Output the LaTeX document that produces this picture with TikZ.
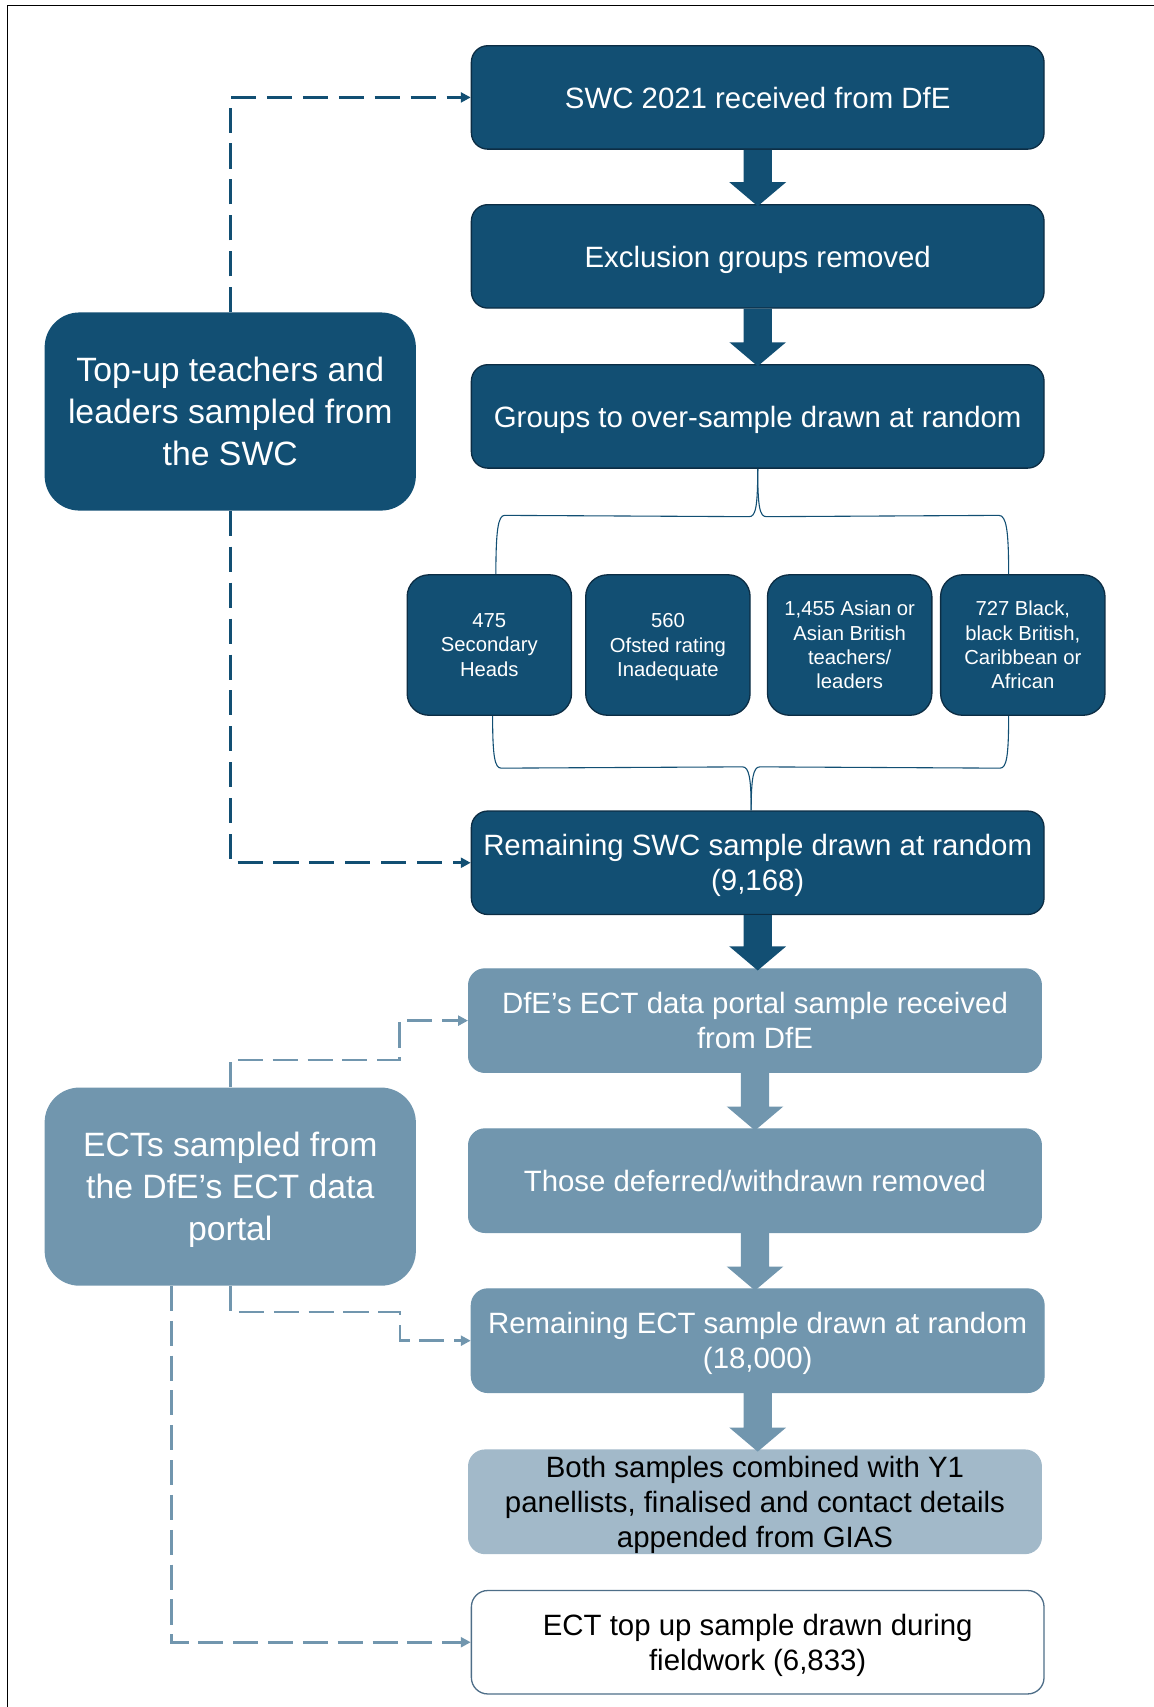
\documentclass[tikz,border=0pt]{standalone}
\usepackage{fontspec}
\setmainfont{Liberation Sans}
\usetikzlibrary{calc,arrows.meta}
\definecolor{swcblue}{RGB}{18,79,115}
\definecolor{swcline}{RGB}{12,45,68}
\definecolor{ectblue}{RGB}{113,150,174}
\definecolor{ectpale}{RGB}{162,185,201}
\definecolor{ectline}{RGB}{78,110,136}
\def\blockarrow[#1](#2)(#3){\fill[#1] ($(#2.south)+(-13,0)$) -- ($(#2.south)+(13,0)$) -- ($(#2.south |- #3.north)+(13,-20)$) -- ($(#2.south |- #3.north)+(26,-20)$) -- ($(#2.south |- #3.north)+(0,2)$) -- ($(#2.south |- #3.north)+(-26,-20)$) -- ($(#2.south |- #3.north)+(-13,-20)$) -- cycle;}
\tikzset{
	swcbox/.style={draw=swcline, line width=1.2pt, fill=swcblue, text=white, rounded corners=15pt, minimum width=526pt, minimum height=95pt, inner sep=0pt, align=center, text depth=0pt, font=\fontsize{27}{32}\selectfont},
	ectbox/.style={swcbox, draw=ectblue, fill=ectblue},
	groupbox/.style={draw=swcline, line width=1.2pt, fill=swcblue, text=white, rounded corners=20pt, minimum width=151pt, minimum height=129pt, inner sep=0pt, align=center, text depth=-3pt, font=\fontsize{18.6}{22.3}\selectfont},
	sidebox/.style={text=white, rounded corners=32pt, minimum width=341pt, minimum height=182pt, inner sep=0pt, align=center, text depth=-1pt, font=\fontsize{31}{38.5}\selectfont},
	brace/.style={draw=swcblue, line width=1pt},
	swcdash/.style={draw=swcblue, line width=2.5pt, dash pattern=on 23pt off 10pt, -{Triangle[length=9pt,width=9pt]}},
	ectdash/.style={draw=ectblue, line width=2.5pt, dash pattern=on 23pt off 9pt, -{Triangle[length=9pt,width=9pt]}}
}
\begin{document}
\begin{tikzpicture}[x=1pt,y=-1pt]
				\useasboundingbox (0,0) rectangle (1060,1568);
				\draw[line width=1.2pt] (7,1568) -- (7,5) -- (1060,5);
				
				\node[swcbox] (swc) at (696,89.5) {SWC 2021 received from DfE};
				\node[swcbox] (excl) at (696,235.5) {Exclusion groups removed};
				\node[swcbox] (grp) at (696,382.5) {Groups to over-sample drawn at random};
				\node[swcbox] (rem) at (696,792.5) {Remaining SWC sample drawn at random\\(9,168)};
				
				\node[groupbox] (heads) at (449.5,592.5) {475\\Secondary\\Heads};
				\node[groupbox] (ofsted) at (613.5,592.5) {560\\Ofsted rating\\Inadequate};
				\node[groupbox] (asian) at (780.5,592.5) {1,455 Asian or\\Asian British\\teachers/\\leaders};
				\node[groupbox] (black) at (939.5,592.5) {727 Black,\\black British,\\Caribbean or\\African};
				
				\node[ectbox] (ectget) at (693.5,937.5) {DfE’s ECT data portal sample received\\from DfE};
				\node[ectbox] (ectdef) at (693.5,1084.5) {Those deferred/withdrawn removed};
				\node[ectbox] (ectrem) at (696,1231.5) {Remaining ECT sample drawn at random\\(18,000)};
				\node[ectbox, draw=ectpale, fill=ectpale, text=black] (both) at (693.5,1379.5) {Both samples combined with Y1\\panellists, finalised and contact details\\appended from GIAS};
				\node[swcbox, draw=ectline, fill=white, text=black] (ecttop) at (696,1508.5) {ECT top up sample drawn during\\fieldwork (6,833)};
				
				\node[sidebox, fill=swcblue] (swcup) at (211.5,378) {Top-up teachers and\\leaders sampled from\\the SWC};
				\node[sidebox, fill=ectblue] (ectup) at (211.5,1090) {ECTs sampled from\\the DfE’s ECT data\\portal};
				
				\blockarrow[swcblue](swc)(excl)
				\blockarrow[swcblue](excl)(grp)
				\blockarrow[swcblue](rem)(ectget)
				\blockarrow[ectblue](ectget)(ectdef)
				\blockarrow[ectblue](ectdef)(ectrem)
				\blockarrow[ectblue](ectrem)(both)
				
				\draw[brace] (grp.south) .. controls ($(grp.south)+(0,36)$) and ($(grp.south)+(-2,44)$) .. ($(grp.south)+(-8,44)$) -- ($(heads.north)+(14,-54)$) .. controls ($(heads.north)+(8,-54)$) and ($(heads.north)+(6,-40)$) .. ($(heads.north)+(6,0)$);
				\draw[brace] (grp.south) .. controls ($(grp.south)+(0,36)$) and ($(grp.south)+(2,44)$) .. ($(grp.south)+(8,44)$) -- ($(black.north)+(-22,-54)$) .. controls ($(black.north)+(-15,-54)$) and ($(black.north)+(-13,-40)$) .. ($(black.north)+(-13,0)$);
				\draw[brace] ($(heads.south)+(3,0)$) .. controls ($(heads.south)+(3,38)$) and ($(heads.south)+(5,48)$) .. ($(heads.south)+(11,48)$) -- ($(rem.north)+(-14,-40)$) .. controls ($(rem.north)+(-8,-40)$) and ($(rem.north)+(-6,-30)$) .. ($(rem.north)+(-6,0)$);
				\draw[brace] ($(black.south)+(-13,0)$) .. controls ($(black.south)+(-13,38)$) and ($(black.south)+(-15,48)$) .. ($(black.south)+(-21,48)$) -- ($(rem.north)+(2,-40)$) .. controls ($(rem.north)+(-4,-40)$) and ($(rem.north)+(-6,-30)$) .. ($(rem.north)+(-6,0)$);
				
				\draw[swcdash] (swcup.north) |- (swc.west);
				\draw[swcdash] (swcup.south) |- (rem.west);
				\draw[ectdash] (ectup.north) -- ++(0,-25) -| ($(ectget.west)+(-63,0)$) -- (ectget.west);
				\draw[ectdash] (ectup.south) -- ++(0,24) -| ($(ectrem.west)+(-65,0)$) -- (ectrem.west);
				\draw[ectdash] ($(ectup.south)+(-54,0)$) |- (ecttop.west);
			\end{tikzpicture}
\end{document}
